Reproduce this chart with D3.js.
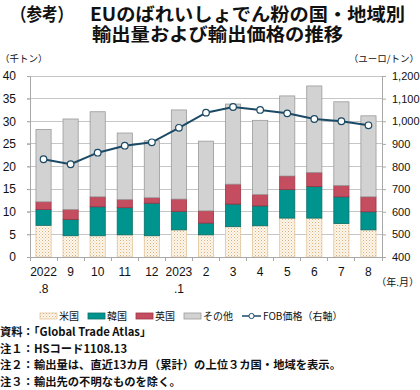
<!DOCTYPE html>
<html><head><meta charset="utf-8">
<script src="https://cdn.jsdelivr.net/npm/d3@7"></script>
<style>
html,body{margin:0;padding:0;background:#fff;}
svg{display:block;}
text{font-family:"Liberation Sans","Noto Sans CJK JP",sans-serif;fill:#111;}
.jp{font-family:"Noto Sans CJK JP","Liberation Sans",sans-serif;}
</style></head>
<body>
<script>
const months1 = ["2022","9","10","11","12","2023","2","3","4","5","6","7","8"];
const months2 = [".8","","","","",".1","","","","","","",""];
const usVals    = [7.0,4.7,4.7,4.9,4.7,6.0,4.9,6.7,6.9,8.6,8.6,7.4,6.0];
const koreaVals = [3.5,3.6,6.4,6.0,7.2,4.1,2.6,5.0,4.4,6.3,7.0,5.9,4.0];
const ukVals    = [1.7,2.2,2.2,1.8,1.2,2.7,2.7,4.4,2.5,3.0,3.1,2.5,3.3];
const otherVals = [16.0,20.0,18.8,14.7,12.6,19.7,15.4,17.7,16.4,17.7,19.1,18.5,17.9];
const fobPrice  = [832,810,861,892,907,971,1038,1063,1050,1035,1010,1000,982];
const leftTicks = [0,5,10,15,20,25,30,35,40];
const rightTicks = [400,500,600,700,800,900,1000,1100,1200];
const seriesNames = ["米国","韓国","英国","その他"];
const lineName = "FOB価格（右軸）";
const titleLines = ["（参考）","EUのばれいしょでん粉の国・地域別","輸出量および輸出価格の推移"];
const notes = ["資料：「Global Trade Atlas」","注１：HSコード1108.13","注２：輸出量は、直近13カ月（累計）の上位３カ国・地域を表示。","注３：輸出先の不明なものを除く。"];

const W=420,H=390;
const svg=d3.select("body").append("svg").attr("width",W).attr("height",H);
const defs=svg.append("defs");
const pat=defs.append("pattern").attr("id","dots").attr("patternUnits","userSpaceOnUse").attr("width",3).attr("height",3);
pat.append("rect").attr("width",3).attr("height",3).attr("fill","#fdf7ee");
pat.append("rect").attr("x",0).attr("y",0).attr("width",1).attr("height",1).attr("fill","#dcae78");
pat.append("rect").attr("x",1.5).attr("y",1.5).attr("width",1).attr("height",1).attr("fill","#e8c79c");

const colors={us:"url(#dots)",korea:"#00948f",uk:"#c44d5f",other:"#d2d2d2"};
const strokes={us:"#e3c69c",korea:"#0a6e6a",uk:"#9e3445",other:"#9a9a9a"};

const L=30,R=382,T=76,B=257;
const x=d3.scaleBand().domain(d3.range(months1.length)).range([L,R]).paddingInner(0.44).paddingOuter(0.22);
const y=d3.scaleLinear().domain([0,40]).range([B,T]);
const y2=d3.scaleLinear().domain([400,1200]).range([B,T]);

// title
svg.append("text").attr("class","jp").attr("x",11).attr("y",21).attr("font-size",18).attr("font-weight","bold")
 .attr("textLength",62).attr("lengthAdjust","spacingAndGlyphs").text(titleLines[0]);
svg.append("text").attr("class","jp").attr("x",90).attr("y",21).attr("font-size",18).attr("font-weight","bold")
 .attr("textLength",315).attr("lengthAdjust","spacingAndGlyphs").text(titleLines[1]);
svg.append("text").attr("class","jp").attr("x",92).attr("y",41).attr("font-size",18).attr("font-weight","bold")
 .attr("textLength",251).attr("lengthAdjust","spacingAndGlyphs").text(titleLines[2]);

// units
svg.append("text").attr("class","jp").attr("x",0).attr("y",62).attr("font-size",9.5).text("（千トン）");
svg.append("text").attr("class","jp").attr("x",419).attr("y",62).attr("font-size",9.5).attr("text-anchor","end").text("（ユーロ/トン）");

// gridlines
svg.append("g").selectAll("line").data(leftTicks.slice(1)).join("line")
 .attr("x1",L-3).attr("x2",R).attr("y1",d=>y(d)).attr("y2",d=>y(d))
 .attr("stroke","#c6c6c6").attr("stroke-width",1).attr("shape-rendering","crispEdges");

// left axis
const gl=svg.append("g").attr("transform",`translate(${L},0)`)
 .call(d3.axisLeft(y).tickValues(leftTicks).tickSize(3).tickPadding(11));
gl.select(".domain").attr("stroke","#a8a8a8");
gl.selectAll(".tick line").attr("stroke","#a8a8a8");
gl.selectAll("text").attr("font-size",12).attr("font-family","Liberation Sans").attr("fill","#111");

// right axis
const gr=svg.append("g").attr("transform",`translate(${R},0)`)
 .call(d3.axisRight(y2).tickValues(rightTicks).tickSize(4).tickPadding(6).tickFormat(d3.format(",")));
gr.select(".domain").attr("stroke","#a8a8a8");
gr.selectAll(".tick line").attr("stroke","#a8a8a8");
gr.selectAll("text").attr("font-size",11).attr("font-family","Liberation Sans").attr("fill","#111");

// stacked bars
const rows=months1.map((m,i)=>({i,us:usVals[i],korea:koreaVals[i],uk:ukVals[i],other:otherVals[i]}));
const keys=["us","korea","uk","other"];
const stack=d3.stack().keys(keys)(rows);
svg.append("g").selectAll("g").data(stack).join("g")
 .attr("fill",d=>colors[d.key]).attr("stroke",d=>strokes[d.key]).attr("stroke-width",0.8)
 .selectAll("rect").data(d=>d).join("rect")
 .attr("x",d=>x(d.data.i)).attr("width",x.bandwidth())
 .attr("y",d=>y(d[1])).attr("height",d=>y(d[0])-y(d[1]));

// bottom axis
svg.append("line").attr("x1",L).attr("x2",R).attr("y1",B).attr("y2",B).attr("stroke","#a8a8a8").attr("shape-rendering","crispEdges");
const step=x.step();
svg.append("g").selectAll("line").data(d3.range(months1.length+1)).join("line")
 .attr("x1",d=>L+d*step).attr("x2",d=>L+d*step).attr("y1",B).attr("y2",B+4)
 .attr("stroke","#a8a8a8").attr("shape-rendering","crispEdges");
svg.append("g").selectAll("text").data(months1).join("text")
 .attr("x",(d,i)=>x(i)+x.bandwidth()/2).attr("y",276).attr("text-anchor","middle")
 .attr("font-size",12).text(d=>d);
svg.append("g").selectAll("text").data(months2).join("text")
 .attr("x",(d,i)=>x(i)+x.bandwidth()/2).attr("y",293).attr("text-anchor","middle")
 .attr("font-size",12).text(d=>d);
svg.append("text").attr("class","jp").attr("x",419).attr("y",286).attr("text-anchor","end").attr("font-size",10).text("（年.月）");

// line
const lineGen=d3.line().x((d,i)=>x(i)+x.bandwidth()/2).y(d=>y2(d));
svg.append("path").datum(fobPrice).attr("d",lineGen).attr("fill","none").attr("stroke","#1b4a66").attr("stroke-width",2);
svg.append("g").selectAll("circle").data(fobPrice).join("circle")
 .attr("cx",(d,i)=>x(i)+x.bandwidth()/2).attr("cy",d=>y2(d)).attr("r",3.3)
 .attr("fill","#fff").attr("stroke","#1b4a66").attr("stroke-width",1.2);

// legend
const lg=svg.append("g").attr("transform","translate(40,316)");
let cx=0;
const legKeys=["us","korea","uk","other"];
legKeys.forEach((k,j)=>{
  lg.append("rect").attr("x",cx).attr("y",-3).attr("width",17).attr("height",6)
    .attr("fill",colors[k]).attr("stroke",strokes[k]).attr("stroke-width",0.8);
  const t=lg.append("text").attr("class","jp").attr("x",cx+19).attr("y",3.5).attr("font-size",10).text(seriesNames[j]);
  cx+=19+t.node().getComputedTextLength()+9;
});
lg.append("line").attr("x1",cx).attr("x2",cx+19).attr("y1",0).attr("y2",0).attr("stroke","#1b4a66").attr("stroke-width",1.5);
lg.append("circle").attr("cx",cx+9.5).attr("cy",0).attr("r",2.6).attr("fill","#fff").attr("stroke","#1b4a66").attr("stroke-width",1);
lg.append("text").attr("class","jp").attr("x",cx+21).attr("y",3.5).attr("font-size",10).text(lineName);

// notes
svg.append("g").selectAll("text").data(notes).join("text").attr("class","jp")
 .attr("x",0).attr("y",(d,i)=>336+i*16.7).attr("font-size",11.3).attr("font-weight","bold").text(d=>d);
</script>
</body></html>
